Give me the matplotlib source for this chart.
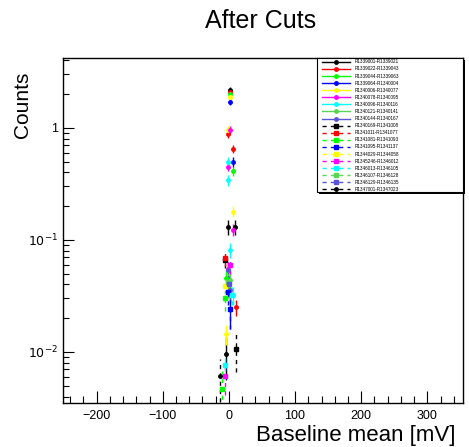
import math
import matplotlib
matplotlib.use("Agg")
import matplotlib.pyplot as plt
from matplotlib.lines import Line2D
from matplotlib.patches import Rectangle
from matplotlib.ticker import FixedLocator, FuncFormatter, LogLocator, MultipleLocator

plt.rcParams['font.family'] = ['Liberation Sans', 'DejaVu Sans']

# run ranges in the legend
labels = ['R1339001-R1339021', 'R1339022-R1339043', 'R1339044-R1339063',
          'R1339064-R1340004', 'R1340006-R1340077', 'R1340078-R1340095',
          'R1340096-R1340116', 'R1340121-R1340141', 'R1340144-R1340167',
          'R1340169-R1341008', 'R1341011-R1341077', 'R1341081-R1341093',
          'R1341095-R1341137', 'R1344029-R1344058', 'R1345246-R1346012',
          'R1346013-R1346105', 'R1346107-R1346128', 'R1346129-R1346135',
          'R1347001-R1347023']
colors = ['#000000', '#ff0000', '#00ff00', '#0000ff', '#ffff00', '#ff00ff',
          '#00ffff', '#59d454', '#5954d8',
          '#000000', '#ff0000', '#00ff00', '#0000ff', '#ffff00', '#ff00ff',
          '#00ffff', '#59d454', '#5954d8', '#000000']

# baseline mean [mV], counts, error per series
xs = [[1.5, -2, 9, -5], [1.5, -1.5, 6, 10], [1.5, 6, -5], [1.5, 6, 1],
      [1, -1, 5.5, -5], [1.5, -1.5, 5.5, -2], [-1, -2, 1.5, 5.5],
      [1.5, -1], [-1, 1.5],
      [10, -6], [-6], [-6, -11], [1, -1], [-6], [-6, 1], [-6, 5],
      [-1], [0], [-13]]
ys = [[2.18, 0.13, 0.13, 0.0096], [2.07, 0.88, 0.65, 0.025], [1.99, 0.41, 0.046],
      [1.71, 0.50, 0.024], [1.90, 0.96, 0.179, 0.0145], [0.96, 0.45, 0.123, 0.055],
      [0.50, 0.34, 0.081, 0.032], [0.044, 0.038], [0.054, 0.036],
      [0.0106, 0.066], [0.069], [0.030, 0.0047], [0.024, 0.034], [0.039],
      [0.0061, 0.060], [0.0077, 0.032], [0.042], [0.040], [0.0061]]
errs = [[0.12, 0.02, 0.02, 0.004], [0.1, 0.06, 0.05, 0.004], [0.1, 0.04, 0.008],
        [0.1, 0.05, 0.008], [0.1, 0.07, 0.02, 0.003], [0.07, 0.04, 0.015, 0.008],
        [0.05, 0.04, 0.012, 0.006], [0.01, 0.008], [0.01, 0.008],
        [0.004, 0.01], [0.01], [0.007, 0.002], [0.008, 0.008], [0.008],
        [0.002, 0.01], [0.002, 0.006], [0.008], [0.008], [0.0025]]

fig = plt.figure(figsize=(4.69, 4.47), dpi=100)
ax = fig.add_axes([0.1343, 0.0984, 0.8529, 0.7718])

handles = []
for i in range(len(labels)):
    dashed = 9 <= i < 18
    ls = (0, (3, 3)) if i >= 9 else '-'
    mk = 's' if dashed else 'o'
    ms = 3.5 if dashed else 2.5
    eb = ax.errorbar(xs[i], ys[i], yerr=errs[i], fmt=mk, color=colors[i],
                     ms=ms, elinewidth=1, capsize=0)
    eb[2][0].set_linestyle(ls)
    handles.append(Line2D([], [], color=colors[i], ls=ls, lw=1, marker=mk, ms=ms))

ax.set_yscale('log')
ax.set_xlim(-251, 354)
ax.set_ylim(0.0035, 4.2)

ax.xaxis.set_major_locator(MultipleLocator(100))
ax.xaxis.set_minor_locator(MultipleLocator(20))
ax.yaxis.set_major_locator(FixedLocator([0.01, 0.1, 1]))
ax.yaxis.set_minor_locator(LogLocator(subs=range(2, 10)))


def ylab(v, pos):
    if abs(v - 1) < 1e-9:
        return '1'
    return r'$10^{%d}$' % round(math.log10(v))


ax.yaxis.set_major_formatter(FuncFormatter(ylab))
ax.yaxis.set_minor_formatter(FuncFormatter(lambda v, p: ''))
ax.tick_params(axis='both', which='both', direction='in', top=False, right=False,
               labelsize=9, width=0.8)
ax.tick_params(axis='x', which='major', length=9, pad=5)
ax.tick_params(axis='x', which='minor', length=5)
ax.tick_params(axis='y', which='major', length=8)
ax.tick_params(axis='y', which='minor', length=4)
for s in ax.spines.values():
    s.set_linewidth(1)

fig.text(0.555, 1 - 21 / 447, 'After Cuts', fontsize=18, ha='center', va='center')
ax.set_xlabel('Baseline mean [mV]', fontsize=16)
ax.xaxis.set_label_coords(0.982, -0.065)
ax.xaxis.label.set_horizontalalignment('right')
ax.set_ylabel('Counts', fontsize=15)
ax.yaxis.set_label_coords(-0.1, 0.96)
ax.yaxis.label.set_verticalalignment('center')
ax.yaxis.label.set_horizontalalignment('right')

# legend box with shadow, drawn by hand so it can be wider than its text
box_x0, box_y0 = 0.634, 0.6116
shadow = Rectangle((box_x0 + 0.006, box_y0 - 0.007), 1 - box_x0, 1 - box_y0,
                   transform=ax.transAxes, facecolor='black', edgecolor='none',
                   clip_on=False, zorder=5)
box = Rectangle((box_x0, box_y0), 1 - box_x0, 1 - box_y0, transform=ax.transAxes,
                facecolor='white', edgecolor='black', lw=0.8, clip_on=False, zorder=6)
ax.add_patch(shadow)
ax.add_patch(box)

leg = ax.legend(handles, labels, loc='upper left', bbox_to_anchor=(0.6475, 0.996),
                fontsize=3.3, handlelength=6.1, labelspacing=0.456, borderpad=0,
                handletextpad=1.1, borderaxespad=0, frameon=False)
leg.set_zorder(7)

fig.savefig('out.png', dpi=100)
